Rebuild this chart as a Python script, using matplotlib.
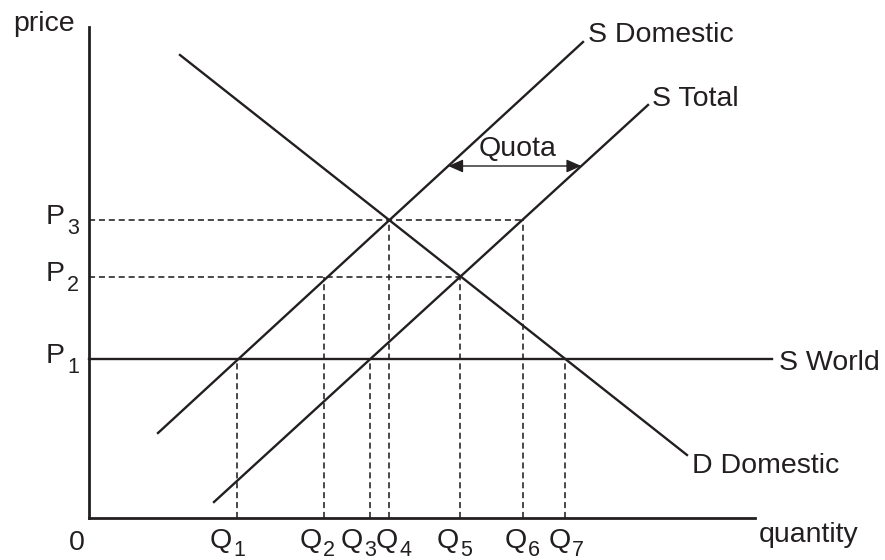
import numpy as np
import matplotlib
matplotlib.use("Agg")
import matplotlib.pyplot as plt

# ---------------- data (units: arbitrary quantity / price units) ----------------
p_levels = [159, 241, 298]                  # P1, P2, P3
p_labels = ["1", "2", "3"]
q_levels = [148, 235, 281, 300, 371, 434, 476]   # Q1..Q7
q_labels = ["1", "2", "3", "4", "5", "6", "7"]

# curves (endpoints)
s_dom_q = [69, 494]
s_dom_p = [85, 476]
s_tot_q = [125, 559]
s_tot_p = [16, 413]
d_dom_q = [91, 598]
d_dom_p = [463, 63]
s_world_q = [0, 683]

# dashed guide lines: (price level index, quantity reached)
h_guides = [(2, 434), (1, 371)]                    # P3 -> Q6, P2 -> Q5
v_guides = [(0, 0), (1, 1), (2, 0), (3, 2), (4, 1), (5, 2), (6, 0)]  # Q index, P index

quota_price = 352

x_axis_end = 666
y_axis_end = 491

# ---------------- style ----------------
INK = "#231f20"
FONT = ["Liberation Sans", "DejaVu Sans"]
FS = 20.5
FS_SUB = 15.5
plt.rcParams["font.family"] = FONT

fig = plt.figure(figsize=(8.85, 5.6), dpi=100)
ax = fig.add_axes([0, 0, 1, 1])
ax.set_xlim(-89, 796)
ax.set_ylim(-42, 518)
ax.axis("off")

# axes
ax.plot([0, 0], [0, y_axis_end], color=INK, lw=2.0, solid_capstyle="projecting")
ax.plot([0, x_axis_end], [0, 0], color=INK, lw=2.0, solid_capstyle="projecting")

dash = (0, (3.8, 2.4))
# horizontal guides
for pi, qend in h_guides:
    ax.plot([0, qend], [p_levels[pi], p_levels[pi]], color=INK, lw=1.15, ls=dash)
# vertical guides
for qi, pi in v_guides:
    ax.plot([q_levels[qi], q_levels[qi]], [0, p_levels[pi]], color=INK, lw=1.15, ls=dash)

# curves
ax.plot(s_world_q, [p_levels[0], p_levels[0]], color=INK, lw=1.7)
ax.plot(s_dom_q, s_dom_p, color=INK, lw=1.7)
ax.plot(s_tot_q, s_tot_p, color=INK, lw=1.7)
ax.plot(d_dom_q, d_dom_p, color=INK, lw=1.7)

# quota arrow between the two supply curves
qa = np.interp(quota_price, s_dom_p, s_dom_q)
qb = np.interp(quota_price, s_tot_p, s_tot_q)
ax.annotate("", xy=(qb, quota_price), xytext=(qa, quota_price),
            arrowprops=dict(arrowstyle="<|-|>,head_length=0.5,head_width=0.22",
                            color=INK, lw=1.0,
                            mutation_scale=18, shrinkA=0, shrinkB=0))
ax.text((qa + qb) / 2 + 3, quota_price + 10, "Quota", fontsize=FS, color=INK,
        ha="center", va="baseline")

# curve labels
ax.text(s_dom_q[1] + 5, s_dom_p[1], "S Domestic", fontsize=FS, color=INK, ha="left", va="baseline")
ax.text(s_tot_q[1] + 4, s_tot_p[1] - 1, "S Total", fontsize=FS, color=INK, ha="left", va="baseline")
ax.text(s_world_q[1] + 7, p_levels[0] - 11, "S World", fontsize=FS, color=INK, ha="left", va="baseline")
ax.text(d_dom_q[1] + 5, d_dom_p[1] - 18, "D Domestic", fontsize=FS, color=INK, ha="left", va="baseline")

# axis labels
ax.text(-76, 487, "price", fontsize=FS, color=INK, ha="left", va="baseline")
ax.text(x_axis_end + 4, -24, "quantity", fontsize=FS, color=INK, ha="left", va="baseline")
ax.text(-12.5, -32, "0", fontsize=FS, color=INK, ha="center", va="baseline")

# price labels
for p, s in zip(p_levels, p_labels):
    ax.text(-24, p - 4, "P", fontsize=FS, color=INK, ha="right", va="baseline")
    ax.text(-22, p - 14, s, fontsize=FS_SUB, color=INK, ha="left", va="baseline")

# quantity labels
q_shift = [-5, -2, -7, 9, -1, 4, 6]
for q, s, d in zip(q_levels, q_labels, q_shift):
    ax.text(q + d, -30, "Q", fontsize=FS, color=INK, ha="right", va="baseline")
    ax.text(q + d + 1, -38, s, fontsize=FS_SUB, color=INK, ha="left", va="baseline")

fig.savefig("out.png", dpi=100, facecolor="white")
